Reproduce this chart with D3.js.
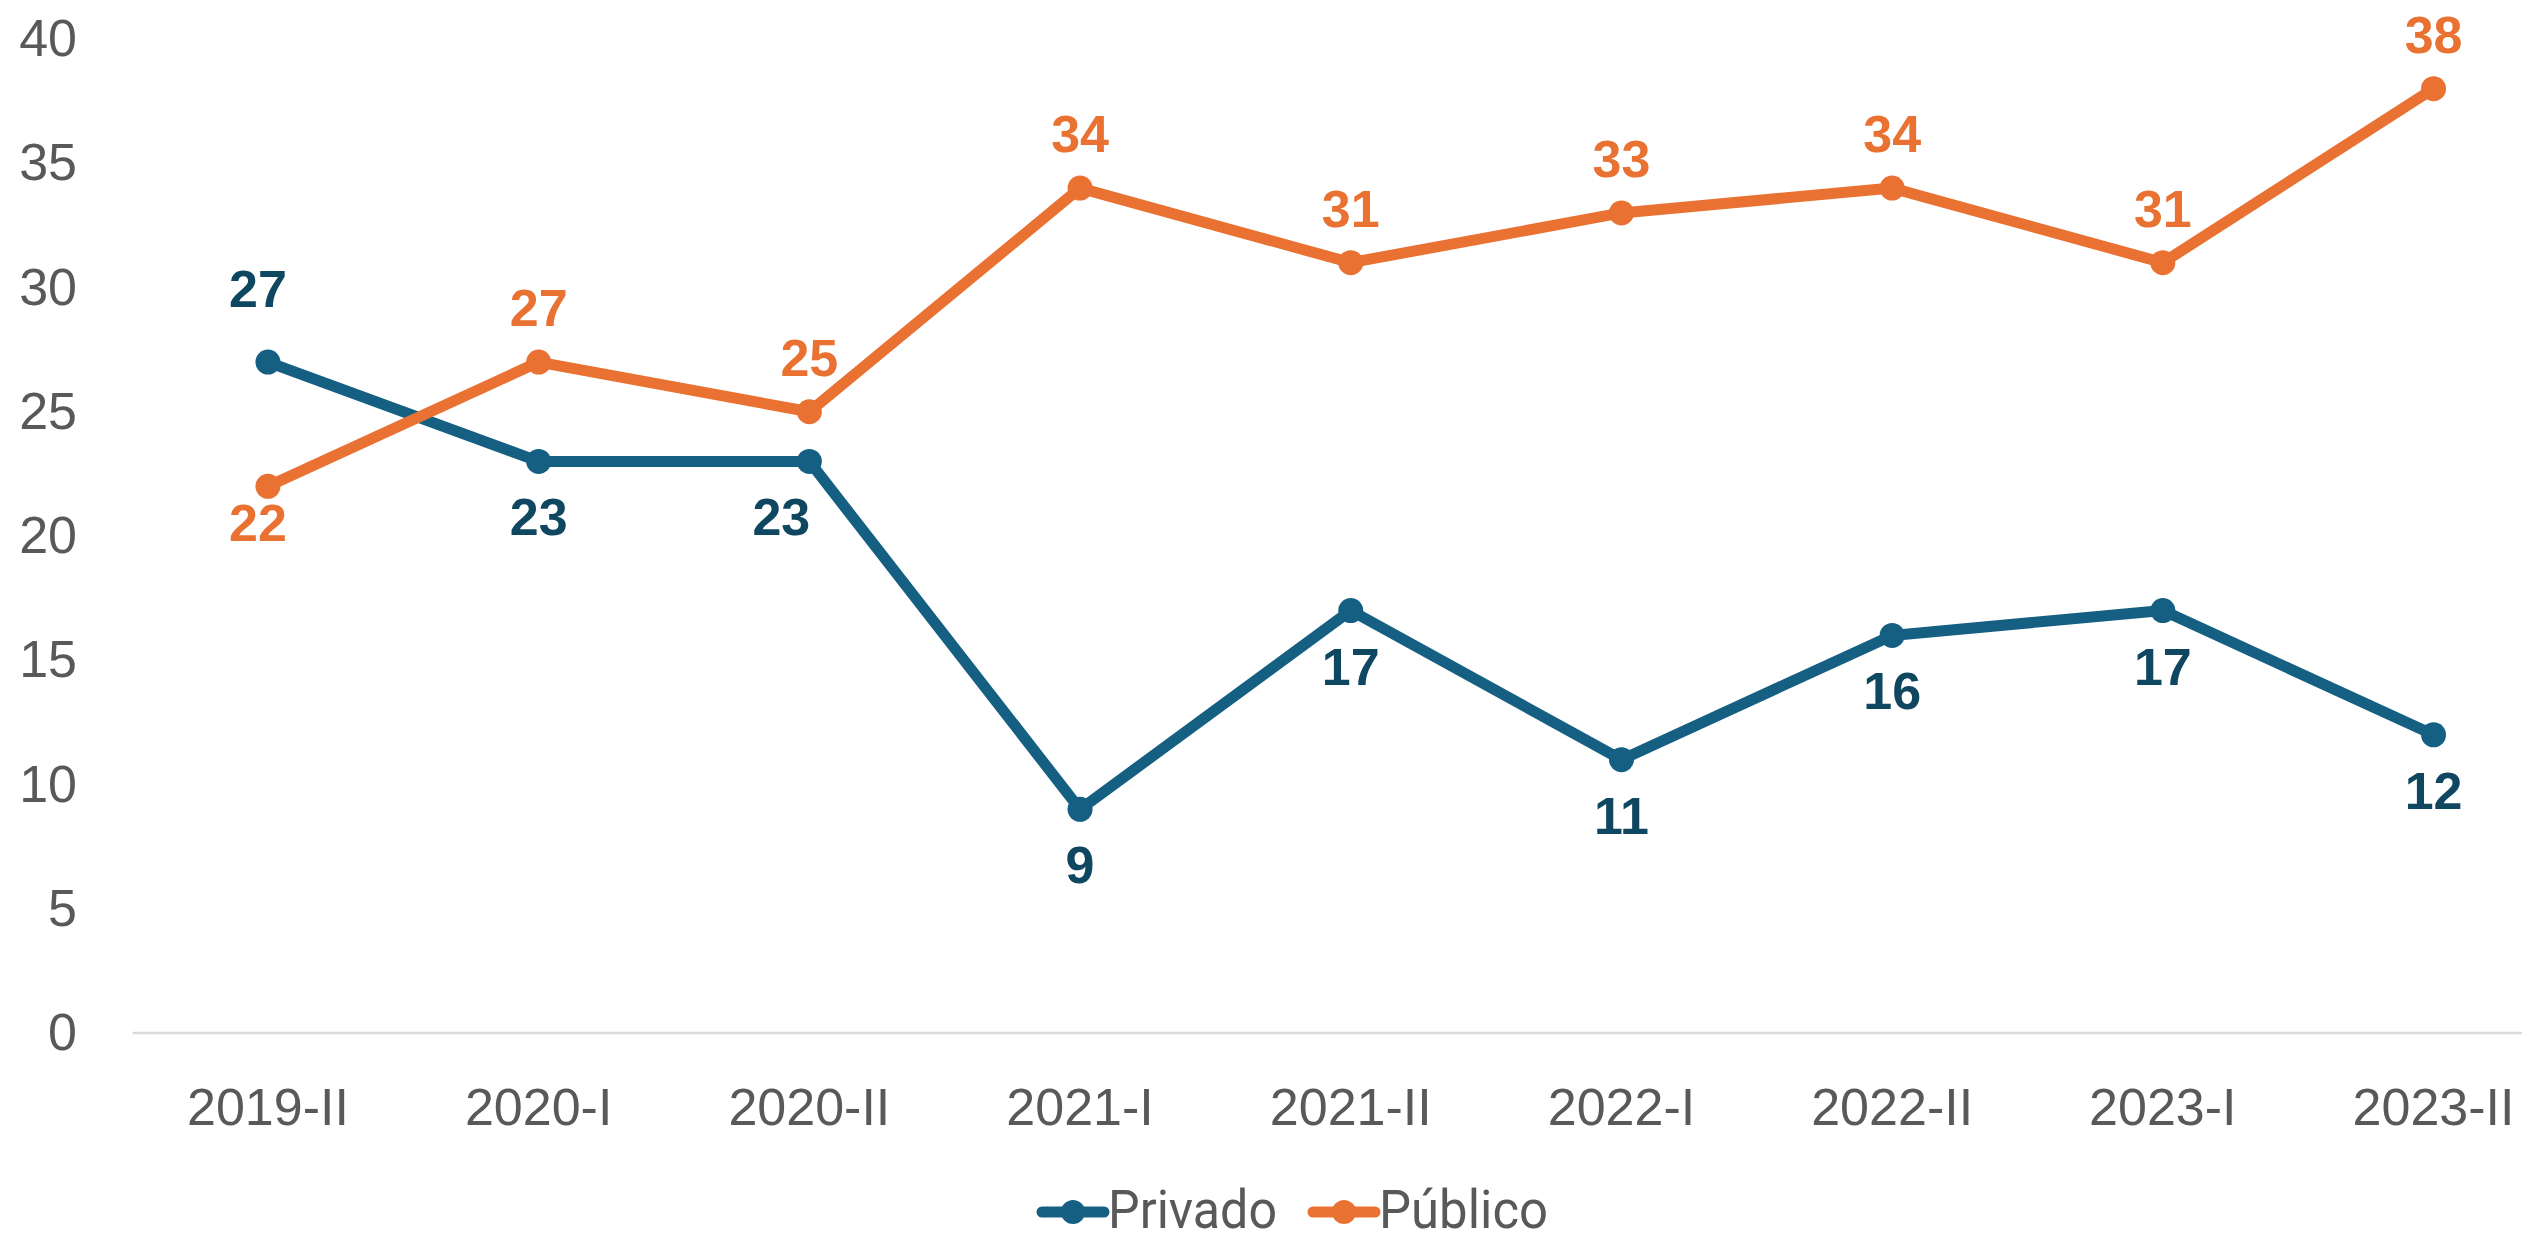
<!DOCTYPE html>
<html>
<head>
<meta charset="utf-8">
<script src="https://cdn.jsdelivr.net/npm/d3@7"></script>
<style>
  body { margin: 0; background: #fff; }
  svg { display: block; }
</style>
</head>
<body>
<div id="chart"></div>
<script>
// data
var periods = ["2019-II", "2020-I", "2020-II", "2021-I", "2021-II", "2022-I", "2022-II", "2023-I", "2023-II"];
var privado = [27, 23, 23, 9, 17, 11, 16, 17, 12];
var publico = [22, 27, 25, 34, 31, 33, 34, 31, 38];
var yTicks = [0, 5, 10, 15, 20, 25, 30, 35, 40];

var series = [
  {name: "Privado", values: privado, color: "#156082", labelColor: "#0f4761"},
  {name: "Público", values: publico, color: "#e97132", labelColor: "#e97132"}
];

// small hand nudges for labels that Excel moved off their default spot
var labelNudge = [
  {0: [-10, -19], 2: [-28, 0]},
  {0: [-10, -19]}
];

var width = 2522, height = 1235;

var svg = d3.select("#chart").append("svg")
  .attr("width", width).attr("height", height);

var x = d3.scaleBand().domain(periods).range([132.6, 132.6 + 270.7 * periods.length]);
var y = d3.scaleLinear().domain([0, 40]).range([1033, 39]);

// baseline
svg.append("line")
  .attr("x1", x.range()[0]).attr("x2", width)
  .attr("y1", y(0)).attr("y2", y(0))
  .attr("stroke", "#d9d9d9").attr("stroke-width", 2.5);

// y tick labels
svg.selectAll(".ytick").data(yTicks).enter().append("text")
  .attr("class", "ytick")
  .attr("x", 77)
  .attr("y", function (d) { return y(d) + 17; })
  .attr("text-anchor", "end")
  .attr("font-family", "Liberation Sans, Arial, sans-serif")
  .attr("font-size", "52px")
  .attr("fill", "#595959")
  .text(function (d) { return d; });

// x tick labels
svg.selectAll(".xtick").data(periods).enter().append("text")
  .attr("class", "xtick")
  .attr("x", function (d) { return x(d) + x.bandwidth() / 2; })
  .attr("y", 1125)
  .attr("text-anchor", "middle")
  .attr("font-family", "Liberation Sans, Arial, sans-serif")
  .attr("font-size", "52px")
  .attr("fill", "#595959")
  .text(function (d) { return d; });

var cx = function (i) { return x(periods[i]) + x.bandwidth() / 2; };

var line = d3.line()
  .x(function (d, i) { return cx(i); })
  .y(function (d) { return y(d); });

series.forEach(function (s, si) {
  var other = series[1 - si].values;
  var nudge = function (i) { return labelNudge[si][i] || [0, 0]; };

  svg.append("path")
    .datum(s.values)
    .attr("d", line)
    .attr("fill", "none")
    .attr("stroke", s.color)
    .attr("stroke-width", 11)
    .attr("stroke-linejoin", "round")
    .attr("stroke-linecap", "round");

  svg.selectAll(".pt" + si).data(s.values).enter().append("circle")
    .attr("class", "pt" + si)
    .attr("cx", function (d, i) { return cx(i); })
    .attr("cy", function (d) { return y(d); })
    .attr("r", 12.5)
    .attr("fill", s.color);

  // label above when this series is the higher one, below otherwise
  svg.selectAll(".lbl" + si).data(s.values).enter().append("text")
    .attr("class", "lbl" + si)
    .attr("x", function (d, i) { return cx(i) + nudge(i)[0]; })
    .attr("y", function (d, i) {
      return (d > other[i] ? y(d) - 36 : y(d) + 74) + nudge(i)[1];
    })
    .attr("text-anchor", "middle")
    .attr("font-family", "Liberation Sans, Arial, sans-serif")
    .attr("font-weight", "bold")
    .attr("font-size", "52px")
    .attr("fill", s.labelColor)
    .text(function (d) { return d; });
});

// legend
var legendX = [1042, 1313];
var legend = svg.selectAll(".legend").data(series).enter().append("g")
  .attr("class", "legend")
  .attr("transform", function (d, i) { return "translate(" + legendX[i] + ",1212)"; });

legend.append("line")
  .attr("x1", 0).attr("x2", 62).attr("y1", 0).attr("y2", 0)
  .attr("stroke", function (d) { return d.color; })
  .attr("stroke-width", 11)
  .attr("stroke-linecap", "round");

legend.append("circle")
  .attr("cx", 31).attr("cy", 0).attr("r", 12)
  .attr("fill", function (d) { return d.color; });

legend.append("text")
  .attr("x", 66).attr("y", 16)
  .attr("font-family", "Roboto, sans-serif")
  .attr("font-size", "53px")
  .attr("fill", "#595959")
  .attr("textLength", 169)
  .attr("lengthAdjust", "spacingAndGlyphs")
  .text(function (d) { return d.name; });
</script>
</body>
</html>
